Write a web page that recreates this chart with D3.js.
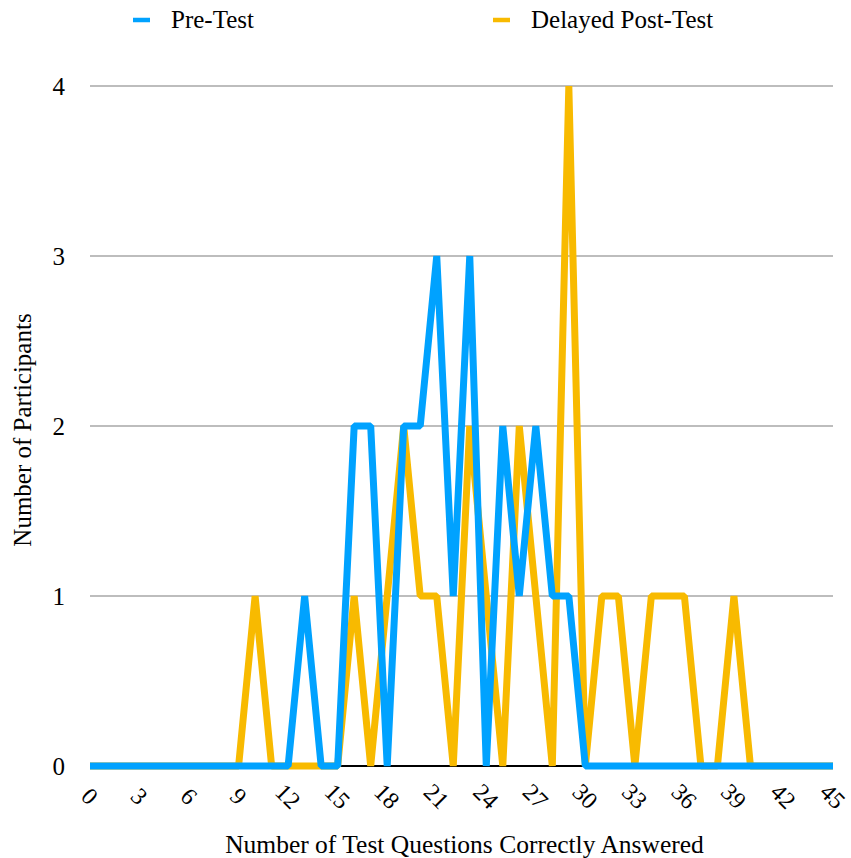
<!DOCTYPE html>
<html>
<head>
<meta charset="utf-8">
<script src="https://cdn.jsdelivr.net/npm/d3@7"></script>
<style>
  body { margin: 0; background: #fff; }
  text { font-family: "Liberation Serif", "DejaVu Serif", serif; fill: #000; }
</style>
</head>
<body>
<div id="chart"></div>
<script>
// score values (number of questions answered correctly)
const scores = d3.range(0, 46);

// participants per score
const preTest = [0,0,0,0,0,0,0,0,0,0, 0,0,0,1,0,0,2,2,0,2, 2,3,1,3,0,2,1,2,1,1, 0,0,0,0,0,0,0,0,0,0, 0,0,0,0,0,0];
const delayedPost = [0,0,0,0,0,0,0,0,0,0, 1,0,0,0,0,0,1,0,1,2, 1,1,0,2,1,0,2,1,0,4, 0,1,1,0,1,1,1,0,0,1, 0,0,0,0,0,0];

const xTicks = d3.range(0, 46, 3);
const yTicks = [0, 1, 2, 3, 4];

const seriesNames = ["Pre-Test", "Delayed Post-Test"];
const seriesColors = ["#00a2ff", "#f8ba00"];

const width = 851, height = 858;
const margin = {top: 86, right: 18, bottom: 92, left: 90};

const svg = d3.select("#chart").append("svg")
  .attr("width", width)
  .attr("height", height);

const x = d3.scaleLinear()
  .domain([0, 45])
  .range([margin.left, width - margin.right]);

const y = d3.scaleLinear()
  .domain([0, 4])
  .range([height - margin.bottom, margin.top]);

// gridlines
svg.append("g")
  .selectAll("line")
  .data(yTicks.filter(d => d > 0))
  .join("line")
  .attr("x1", x(0))
  .attr("x2", x(45))
  .attr("y1", d => y(d))
  .attr("y2", d => y(d))
  .attr("stroke", "#bdbdbd")
  .attr("stroke-width", 2);

// baseline
svg.append("line")
  .attr("x1", x(0)).attr("x2", x(45))
  .attr("y1", y(0)).attr("y2", y(0))
  .attr("stroke", "#000")
  .attr("stroke-width", 2);

// y labels
svg.append("g")
  .selectAll("text")
  .data(yTicks)
  .join("text")
  .attr("x", 65)
  .attr("y", d => y(d))
  .attr("dy", "0.35em")
  .attr("text-anchor", "end")
  .attr("font-size", 25)
  .text(d => d);

// x labels, rotated
svg.append("g")
  .selectAll("text")
  .data(xTicks)
  .join("text")
  .attr("transform", d => `translate(${x(d)},${y(0) + 30}) rotate(45)`)
  .attr("text-anchor", "middle")
  .attr("dy", "0.35em")
  .attr("font-size", 24)
  .text(d => d);

// axis titles
svg.append("text")
  .attr("x", (x(0) + x(45)) / 2 + 3)
  .attr("y", 853)
  .attr("text-anchor", "middle")
  .attr("font-size", 25.5)
  .text("Number of Test Questions Correctly Answered");

svg.append("text")
  .attr("transform", `translate(31,${(y(0) + y(4)) / 2 + 4}) rotate(-90)`)
  .attr("text-anchor", "middle")
  .attr("font-size", 25)
  .text("Number of Participants");

// lines
const line = d3.line()
  .x((d, i) => x(scores[i]))
  .y(d => y(d));

const allSeries = [preTest, delayedPost];

// draw delayed first so pre-test is on top
[1, 0].forEach(k => {
  svg.append("path")
    .datum(allSeries[k])
    .attr("d", line)
    .attr("fill", "none")
    .attr("stroke", seriesColors[k])
    .attr("stroke-width", 7)
    .attr("stroke-linejoin", "bevel");
});

// legend
const legendX = [133, 493];
const legend = svg.append("g")
  .selectAll("g")
  .data(seriesNames)
  .join("g")
  .attr("transform", (d, i) => `translate(${legendX[i]},20)`);

legend.append("line")
  .attr("x1", 0).attr("x2", 17)
  .attr("stroke", (d, i) => seriesColors[i])
  .attr("stroke-width", 4.5);

legend.append("text")
  .attr("x", 38)
  .attr("dy", "0.33em")
  .attr("font-size", 25)
  .text(d => d);
</script>
</body>
</html>
